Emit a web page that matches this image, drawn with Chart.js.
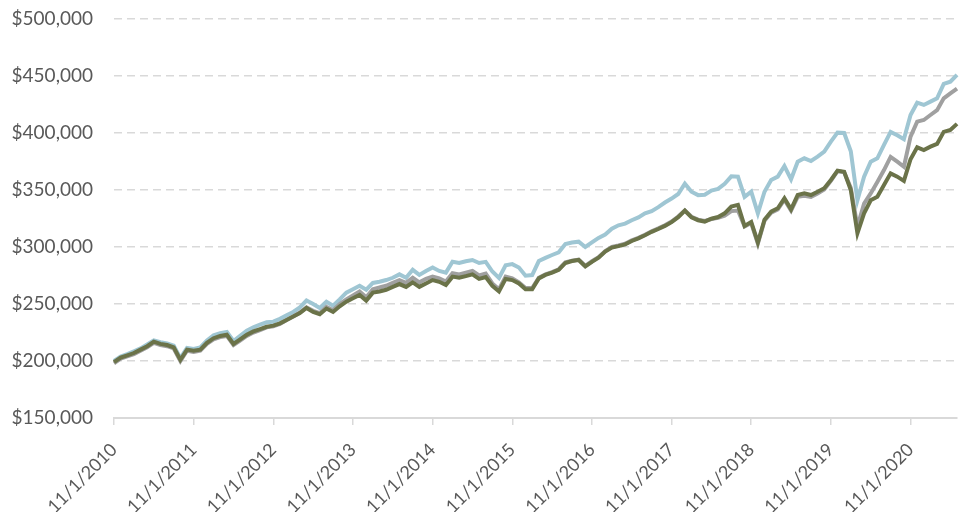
<!DOCTYPE html>
<html>
<head>
<meta charset="utf-8">
<script src="https://cdn.jsdelivr.net/npm/chart.js@4/dist/chart.umd.min.js"></script>
<style>
  html, body { margin: 0; padding: 0; background: #fff; }
  #wrap { width: 967px; height: 512px; }
</style>
</head>
<body>
<div id="wrap"><canvas id="growthChart" width="967" height="512"></canvas></div>
<script>
// monthly dates, 11/1/2010 .. 6/1/2021
var months = [];
for (var k = 0; k < 128; k++) {
  var m = (10 + k) % 12 + 1;
  var y = 2010 + Math.floor((10 + k) / 12);
  months.push(m + "/1/" + y);
}

// portfolio values in $ thousands
var blueSeries = [
  200,204,206,208.5,211,214.5,218,216.5,215.5,213.5,
  202.5,211.5,210.5,212,218,222.5,224.5,225.5,217.5,222,
  226.5,229.5,232,234,234.5,237,240,243,247,253,
  250,246.5,252,248.5,254,260,263,266,262.5,268.5,
  269.5,271,273,276,273,280,275.5,279,282,279,
  277.5,287,286,287.5,288.6,286,287,278.5,272.8,284,
  285,282,274.8,275.4,287.7,290.5,293,295.3,302.6,304,
  304.7,300,304,308,311,316,319,320.5,323.5,326,
  329.5,331.5,335,339,342.5,346.5,355.5,348.5,345.5,345.8,
  349.5,351,355.5,362,361.7,344,348.5,329.5,348.5,358.8,
  361.7,371,359.4,374.8,377.8,375.4,379.2,383.6,392.4,400.3,
  400,384,341,361.7,374.8,377.8,389.5,401,398,394.5,
  415.8,426.6,424.6,427.5,430.5,443,445,451
];

var graySeries = [
  198,202,204,206,209,212,216,214,213,211,
  200,209,208,209,215,219,221,222,214,218,
  222,225,227,229.5,230.5,232.5,236,239,242.5,247,
  244,242,247.5,244.5,250,254,257.5,261,256,263,
  264.5,266,268.5,271,268.5,273,269,272,274,272.5,
  269.7,277,276,277.5,279,275,276.7,268,263,274,
  272.5,269,264,264,273,276,278,280.5,286.5,288,
  289,283.5,287.5,291,296.5,300,301.3,302.8,305.8,308,
  310.8,313.8,316.3,319,322.3,326.7,332,326.5,324,322.8,
  324.5,325.5,327.5,331.5,332,318,321,303,323,330,
  333,341.5,332,344,345,344,347,350.5,358,366.5,
  365.5,352,318,338,347,357,367.5,379,374.8,370.4,
  396.8,410,411.4,415.8,420,430.4,434.8,439
];

var greenSeries = [
  199,203,205,207,210,213,217,215,214,212,
  201,210,209,210,216,220,222,223,215,219,
  223,226,228,230,231,233,236,239,242,246.5,
  243,241,246,243,248,252,255,258,253,260,
  261,262.5,265,267.5,265,269,265,268,271,269.5,
  266.7,274,273,274.5,276,272,273.7,266,261,272,
  271,268,263,263,272.5,275.5,277.5,280,286,287.7,
  288.6,283,287,290.6,296,299.5,300.8,302.3,305.3,307.6,
  310.3,313.3,315.8,318.5,321.8,326.2,332,326,323.5,322.3,
  324.8,326.3,329.5,335.5,337,318.4,322,304,324,331,
  334,342.7,333,345.6,347,345.6,348.5,351.5,358.8,367,
  366,350,312,329.5,341,344,354.4,364.6,361.7,358,
  377,387.4,385,388,390.4,401,402.6,408
];

var yTicks = [150, 200, 250, 300, 350, 400, 450, 500];

var fontFace = "Lato, 'Open Sans', sans-serif";
var textColor = "#595959";

var ctx = document.getElementById("growthChart");
var growthChart = new Chart(ctx, {
  type: "line",
  data: {
    labels: months,
    datasets: [
      {
        label: "Series 3",
        data: greenSeries,
        borderColor: "#6b7349",
        borderWidth: 4,
        pointRadius: 0,
        tension: 0,
        fill: false,
      },
      {
        label: "Series 2",
        data: graySeries,
        borderColor: "#a0a0a0",
        borderWidth: 4,
        pointRadius: 0,
        tension: 0,
        fill: false,
      },
      {
        label: "Series 1",
        data: blueSeries,
        borderColor: "#9fc6d3",
        borderWidth: 4,
        pointRadius: 0,
        tension: 0,
        fill: false,
      },
    ],
  },
  options: {
    responsive: false,
    animation: false,
    layout: {
      padding: { left: 10, right: 10, top: 19, bottom: 0 },
    },
    plugins: {
      legend: { display: false },
      tooltip: { enabled: false },
    },
    scales: {
      x: {
        ticks: {
          autoSkip: false,
          maxRotation: 45,
          minRotation: 45,
          padding: 14,
          color: textColor,
          font: { family: fontFace, size: 18 },
          callback: function (value, index) {
            return index % 12 === 0 ? months[index] : null;
          },
        },
        grid: {
          drawOnChartArea: false,
          drawTicks: true,
          tickLength: 7,
          color: "#d9d9d9",
          lineWidth: 1.5,
        },
        border: { display: true, color: "#d9d9d9", width: 2 },
        afterFit: function (scale) {
          scale.height = 94;
        },
      },
      y: {
        min: 150,
        max: 500,
        afterBuildTicks: function (scale) {
          scale.ticks = yTicks.map(function (v) { return { value: v }; });
        },
        ticks: {
          padding: 21,
          color: textColor,
          font: { family: fontFace, size: 19 },
          callback: function (value) {
            return "$" + value + ",000";
          },
        },
        grid: {
          drawTicks: false,
          tickLength: 0,
          color: "#d9d9d9",
          lineWidth: 1.5,
        },
        border: { display: false, dash: [8, 5] },
        afterFit: function (scale) {
          scale.width = 104;
          // tick padding would otherwise push the plot top down
          scale.paddingTop = 0;
          scale.paddingBottom = 0;
        },
      },
    },
  },
});
</script>
</body>
</html>
